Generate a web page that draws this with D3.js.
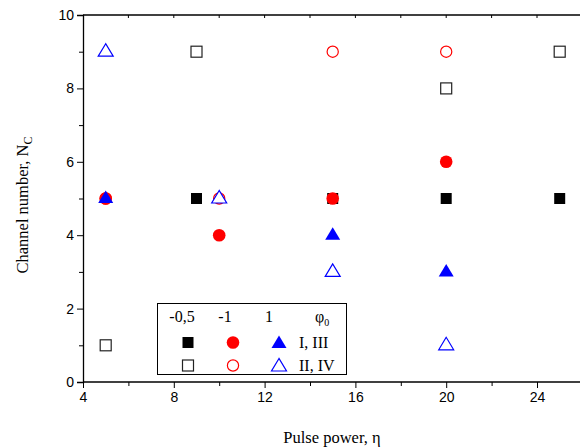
<!DOCTYPE html>
<html>
<head>
<meta charset="utf-8">
<script src="https://cdn.jsdelivr.net/npm/d3@7/dist/d3.min.js"></script>
<style>
  html, body { margin: 0; padding: 0; background: #fff; }
  svg { display: block; }
</style>
</head>
<body>
<script>
// Channel number N_c versus pulse power η for three initial phases φ0
const xTicks = [4, 8, 12, 16, 20, 24];
const yTicks = [0, 2, 4, 6, 8, 10];

// φ0 = -0,5
const sqFilledEta = [9, 15, 20, 25];
const sqFilledN   = [5, 5, 5, 5];
const sqOpenEta   = [5, 9, 20, 25];
const sqOpenN     = [1, 9, 8, 9];
// φ0 = -1
const ciFilledEta = [5, 10, 15, 20];
const ciFilledN   = [5, 4, 5, 6];
const ciOpenEta   = [5, 10, 15, 20];
const ciOpenN     = [5, 5, 9, 9];
// φ0 = 1
const trFilledEta = [5, 15, 20];
const trFilledN   = [5, 4, 3];
const trOpenEta   = [5, 10, 15, 20];
const trOpenN     = [9, 5, 3, 1];

const legendPhases = ["-0,5", "-1", "1"];
const legendRows = ["I, III", "II, IV"];

const W = 580, H = 448;
const svg = d3.select("body").append("svg").attr("width", W).attr("height", H);

const x = d3.scaleLinear().domain([4, 26]).range([83, 582.4]);
const y = d3.scaleLinear().domain([0, 10]).range([382, 15]);

const tickFont = "'Liberation Sans', Arial, sans-serif";
const serif = "'Liberation Serif', 'Times New Roman', serif";

// frame: top edge with inward ticks
svg.append("line").attr("x1", x(4)).attr("x2", W).attr("y1", y(10)).attr("y2", y(10))
  .attr("stroke", "#000").attr("stroke-width", 1.3);
svg.append("g").selectAll("line").data(d3.range(6, 26, 2)).join("line")
  .attr("x1", d => x(d)).attr("x2", d => x(d))
  .attr("y1", y(10)).attr("y2", y(10) + 3)
  .attr("stroke", "#000").attr("stroke-width", 1);

// bottom axis
const xAxis = svg.append("g").attr("transform", `translate(0,${y(0)})`)
  .call(d3.axisBottom(x).tickValues(xTicks).tickSize(6).tickPadding(4).tickFormat(d3.format("d")));
svg.append("g").attr("transform", `translate(0,${y(0)})`)
  .call(d3.axisBottom(x).tickValues(d3.range(6, 26, 4)).tickSize(4).tickFormat(""))
  .call(g => g.select(".domain").remove());
xAxis.select(".domain").attr("d", `M${x(4)},0H${W}`);

// left axis
const yAxis = svg.append("g").attr("transform", `translate(${x(4)},0)`)
  .call(d3.axisLeft(y).tickValues(yTicks).tickSize(6).tickPadding(3).tickFormat(d3.format("d")));
svg.append("g").attr("transform", `translate(${x(4)},0)`)
  .call(d3.axisLeft(y).tickValues([1, 3, 5, 7, 9]).tickSize(4).tickFormat(""))
  .call(g => g.select(".domain").remove());

svg.selectAll(".domain").attr("stroke", "#000").attr("stroke-width", 1.3);
svg.selectAll(".tick line").attr("stroke", "#000").attr("stroke-width", 1);
svg.selectAll(".tick text").attr("font-family", tickFont).attr("font-size", 14).attr("fill", "#000");

// axis titles
svg.append("text").attr("x", 332).attr("y", 443).attr("text-anchor", "middle")
  .attr("font-family", serif).attr("font-size", 16.5).text("Pulse power, η");

const yt = svg.append("text").attr("transform", "translate(28,205) rotate(-90)")
  .attr("text-anchor", "middle").attr("font-family", serif).attr("font-size", 16.5);
yt.append("tspan").text("Channel number, N");
yt.append("tspan").attr("font-size", 12).attr("dy", 4).text("C");

// marker shapes
const tri = "M0,-8L-7.5,4.5L7.5,4.5Z";
function squares(g, xs, ys, filled) {
  g.selectAll(null).data(xs.map((v, i) => [v, ys[i]])).join("rect")
    .attr("x", d => x(d[0]) - 5.5).attr("y", d => y(d[1]) - 5.5)
    .attr("width", 11).attr("height", 11)
    .attr("fill", filled ? "#000" : "#fff").attr("stroke", filled ? "none" : "#222")
    .attr("stroke-width", 1.2);
}
function circles(g, xs, ys, filled) {
  g.selectAll(null).data(xs.map((v, i) => [v, ys[i]])).join("circle")
    .attr("cx", d => x(d[0])).attr("cy", d => y(d[1])).attr("r", filled ? 6.3 : 5.6)
    .attr("fill", filled ? "#ff0000" : "none").attr("stroke", filled ? "none" : "#ff0000")
    .attr("stroke-width", 1.2);
}
function triangles(g, xs, ys, filled) {
  g.selectAll(null).data(xs.map((v, i) => [v, ys[i]])).join("path")
    .attr("d", tri).attr("transform", d => `translate(${x(d[0])},${y(d[1])})`)
    .attr("fill", filled ? "#0000ff" : "#fff").attr("stroke", filled ? "none" : "#0000ff")
    .attr("stroke-width", 1.2);
}

const pts = svg.append("g");
squares(pts, sqOpenEta, sqOpenN, false);
squares(pts, sqFilledEta, sqFilledN, true);
circles(pts, ciOpenEta, ciOpenN, false);
circles(pts, ciFilledEta, ciFilledN, true);
triangles(pts, trOpenEta, trOpenN, false);
triangles(pts, trFilledEta, trFilledN, true);

// legend
const lg = svg.append("g");
lg.append("rect").attr("x", 157.5).attr("y", 303.5).attr("width", 189).attr("height", 71)
  .attr("fill", "#fff").attr("stroke", "#000").attr("stroke-width", 1);
const colX = [188, 233, 279];
lg.selectAll(null).data(legendPhases).join("text")
  .attr("x", (d, i) => colX[i] - (i === 0 ? 6 : i === 1 ? 8 : 10)).attr("y", 322)
  .attr("text-anchor", "middle").attr("font-family", serif).attr("font-size", 16).text(d => d);
const ph = lg.append("text").attr("x", 315).attr("y", 322).attr("font-family", serif).attr("font-size", 16);
ph.append("tspan").text("φ");
ph.append("tspan").attr("font-size", 10).attr("dy", 4).text("0");
lg.selectAll(null).data(legendRows).join("text")
  .attr("x", 299).attr("y", (d, i) => 348 + i * 23)
  .attr("font-family", serif).attr("font-size", 16).text(d => d);

// legend markers: row 0 filled, row 1 open
const ry = [342.5, 365.5];
const lgx = d3.scaleLinear().domain([0, 1]).range([0, 1]);
[true, false].forEach((filled, r) => {
  lg.append("rect").attr("x", colX[0] - 5.5).attr("y", ry[r] - 5.5).attr("width", 11).attr("height", 11)
    .attr("fill", filled ? "#000" : "#fff").attr("stroke", filled ? "none" : "#222").attr("stroke-width", 1.2);
  lg.append("circle").attr("cx", colX[1]).attr("cy", ry[r]).attr("r", filled ? 6.3 : 5.6)
    .attr("fill", filled ? "#ff0000" : "none").attr("stroke", filled ? "none" : "#ff0000").attr("stroke-width", 1.2);
  lg.append("path").attr("d", tri).attr("transform", `translate(${colX[2]},${ry[r] + 1})`)
    .attr("fill", filled ? "#0000ff" : "#fff").attr("stroke", filled ? "none" : "#0000ff").attr("stroke-width", 1.2);
});
</script>
</body>
</html>
